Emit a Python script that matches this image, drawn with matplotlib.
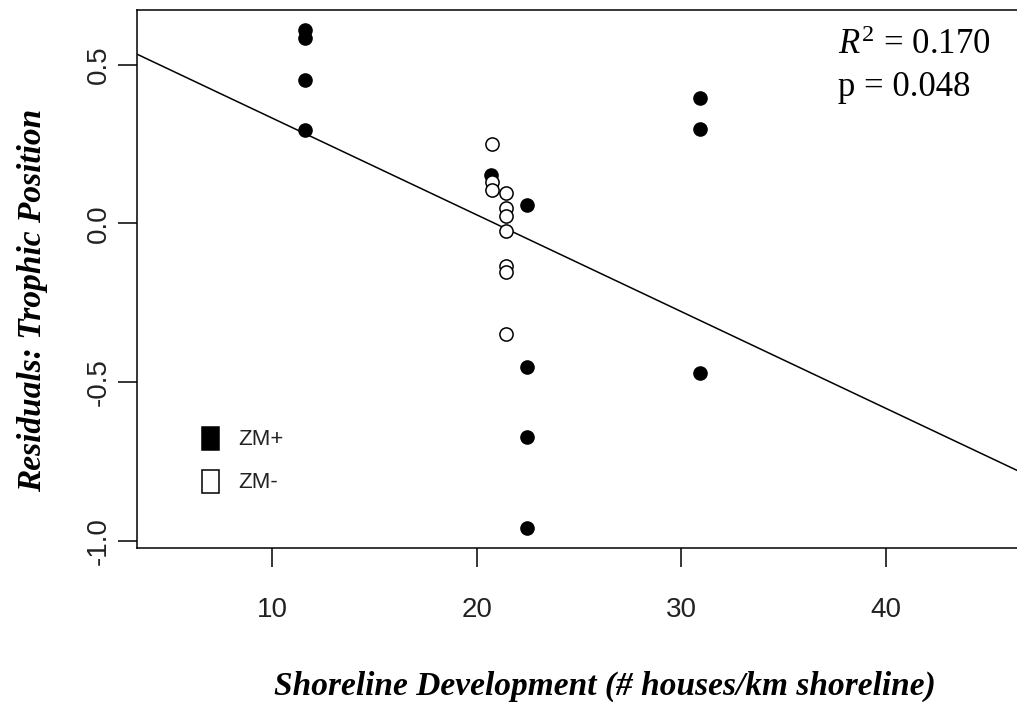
"""Residuals of trophic position vs shoreline development."""

import matplotlib
matplotlib.use('Agg')
import matplotlib.pyplot as plt
from matplotlib.patches import Rectangle
import numpy as np


# ZM+ (filled) points
zm_plus_x = [11.6, 11.6, 11.6, 11.6, 20.7, 22.45, 22.45, 22.45, 22.45, 30.9, 30.9, 30.9]
zm_plus_y = [0.61, 0.585, 0.451, 0.295, 0.153, 0.059, -0.452, -0.673, -0.960, 0.395, 0.297, -0.472]

# ZM- (open) points
zm_minus_x = [20.74, 20.74, 20.74, 21.43, 21.43, 21.43, 21.43, 21.43, 21.43, 21.43]
zm_minus_y = [0.251, 0.131, 0.106, 0.097, 0.049, 0.024, -0.023, -0.134, -0.153, -0.348]

# fitted regression line
fit_intercept = 0.637
fit_slope = -0.0305

x_ticks = [10, 20, 30, 40]
y_ticks = [-1.0, -0.5, 0.0, 0.5]
y_tick_labels = ["-1.0", "-0.5", "0.0", "0.5"]

stats_lines = [r"$R^{2}$ = 0.170", "p = 0.048"]
legend_labels = ["ZM+", "ZM-"]

W, H = 1017, 711
plt.rcParams['mathtext.fontset'] = 'custom'
plt.rcParams['mathtext.rm'] = 'Liberation Serif'
plt.rcParams['mathtext.it'] = 'Liberation Serif:italic'

fig = plt.figure(figsize=(W / 100, H / 100), dpi=100)
left, right, top, bottom = 136.5, 1019, 10, 548
ax = fig.add_axes([left / W, 1 - bottom / H, (right - left) / W, (bottom - top) / H])

xlim = (3.36, 46.5)
ylim = (-1.023, 0.673)
ax.set_xlim(*xlim)
ax.set_ylim(*ylim)

xs = np.array(xlim)
ax.plot(xs, fit_intercept + fit_slope * xs, color='black', lw=1.1, zorder=2)

ax.plot(zm_plus_x, zm_plus_y, 'o', ms=9.5, mfc='black', mec='black', mew=1.0, zorder=3)
ax.plot(zm_minus_x, zm_minus_y, 'o', ms=9.5, mfc='white', mec='black', mew=1.1, zorder=3)

ax.set_xticks(x_ticks)
ax.set_yticks(y_ticks)
ax.set_yticklabels(y_tick_labels)
for lab in ax.get_xticklabels() + ax.get_yticklabels():
    lab.set_fontfamily('Liberation Sans')
    lab.set_fontsize(20)
    lab.set_color('#222222')
ax.tick_params(axis='both', length=13.5, width=1.1, color='black')
ax.tick_params(axis='x', pad=22)
ax.tick_params(axis='y', pad=4, labelrotation=90)
for lab in ax.get_yticklabels():
    lab.set_verticalalignment('center')

for side in ['left', 'bottom', 'top', 'right']:
    ax.spines[side].set_linewidth(1.1)

# legend (no frame): tall keys as in the original device output
def px(x, y):
    return x / W, 1 - y / H

key_w, key_h = 17, 23
key_centers = [(210.5, 438.5), (210.5, 481)]
key_faces = ['black', 'white']
for (cx, cy), face, lab in zip(key_centers, key_faces, legend_labels):
    x0, y0 = px(cx - key_w / 2, cy + key_h / 2)
    fig.patches.append(Rectangle((x0, y0), key_w / W, key_h / H, transform=fig.transFigure,
                                 facecolor=face, edgecolor='black', lw=1.1))
    tx, ty = px(238, cy + 1)
    fig.text(tx, ty, lab, fontsize=16, family='Liberation Sans', va='center', ha='left',
             color='#222222')

# statistics annotation
fig.text(*px(838, 45), stats_lines[0], fontsize=25, family='Liberation Serif',
         va='center', ha='left')
fig.text(*px(838, 87), stats_lines[1], fontsize=25, family='Liberation Serif',
         va='center', ha='left')

# axis titles
fig.text(*px(605, 686), "Shoreline Development (# houses/km shoreline)",
         fontsize=24, family='Liberation Serif', style='italic', weight='bold',
         ha='center', va='center')
fig.text(*px(33, 300), "Residuals: Trophic Position",
         fontsize=24, family='Liberation Serif', style='italic', weight='bold',
         ha='center', va='center', rotation=90)

fig.savefig('out.png', dpi=100)
